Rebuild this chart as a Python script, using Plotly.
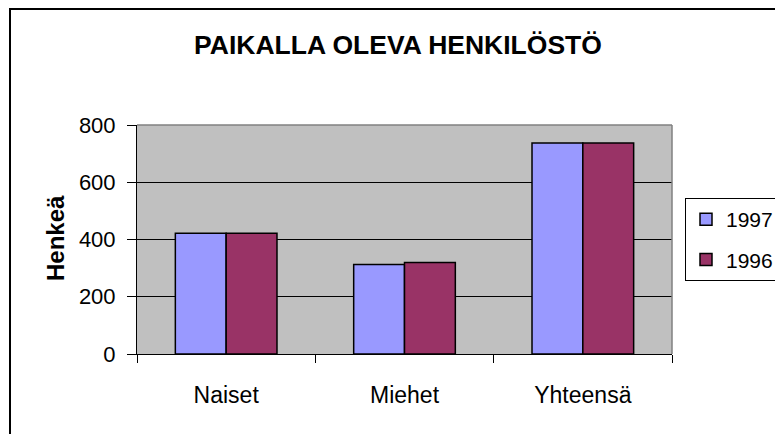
import plotly.graph_objects as go

categories = ["Naiset", "Miehet", "Yhteensä"]
values_1997 = [422, 313, 737]
values_1996 = [422, 320, 737]
y_ticks = [0, 200, 400, 600, 800]

OFF = 8  # default page margin of the browser body
W, H = 783 - OFF, 434 - OFF
# plot area in page pixels: x 137..672, y 125..354
PL, PR, PT, PB = 137, 672, 125, 354
L, R, T, B = PL - OFF, W - (PR - OFF), PT - OFF, H - (PB - OFF)
pw, ph = W - L - R, H - T - B


def px_x(x):
    return (x - OFF - L) / pw


def px_y(y):
    return (PB - y) / ph


FONT = "Liberation Sans, Arial, sans-serif"

fig = go.Figure()
fig.add_trace(go.Bar(name="1997", x=categories, y=values_1997, legendgroup="a",
                     marker=dict(color="#9999FF", line=dict(color="black", width=1.5))))
fig.add_trace(go.Bar(name="1996", x=categories, y=values_1996, legendgroup="b",
                     marker=dict(color="#993366", line=dict(color="black", width=1.5))))

fig.update_layout(
    width=W, height=H,
    margin=dict(l=L, r=R, t=T, b=B, autoexpand=False),
    paper_bgcolor="white",
    plot_bgcolor="#C0C0C0",
    barmode="group", bargap=0.43, bargroupgap=0,
    font=dict(family=FONT, size=22, color="black"),
    title=dict(text="<b>PAIKALLA OLEVA HENKILÖSTÖ</b>", x=(398 - OFF) / W, xanchor="center",
               y=1 - (45 - OFF) / H, yanchor="middle", yref="container",
               font=dict(family=FONT, size=26.5, color="black")),
    xaxis=dict(showline=True, linecolor="black", linewidth=1, ticks="outside",
               tickson="boundaries", ticklen=8, tickcolor="black", showgrid=False,
               ticklabelstandoff=20, tickfont=dict(size=23)),
    yaxis=dict(range=[0, 800], tickvals=y_ticks, showline=True, linecolor="black",
               linewidth=1, ticks="outside", ticklen=9, tickcolor="black",
               showgrid=True, gridcolor="black", gridwidth=1, zeroline=False,
               ticklabelstandoff=7, tickfont=dict(size=22)),
    legend=dict(x=px_x(685), y=px_y(198), xanchor="left", yanchor="top",
                bordercolor="black", borderwidth=1, bgcolor="white",
                font=dict(size=21), traceorder="grouped", tracegroupgap=10),
    showlegend=True,
)

fig.add_annotation(text="<b>Henkeä</b>", textangle=-90, x=px_x(55), y=px_y(238),
                   xref="paper", yref="paper", xanchor="center", yanchor="middle",
                   showarrow=False, font=dict(family=FONT, size=24, color="black"))

# plot area border (top/right in gray)
fig.add_shape(type="line", xref="paper", yref="paper", x0=0, x1=1, y0=1, y1=1,
              line=dict(color="#808080", width=1.5), layer="above")
fig.add_shape(type="line", xref="paper", yref="paper", x0=1, x1=1, y0=0, y1=1,
              line=dict(color="#808080", width=1.5), layer="above")

# outer chart border
fig.add_shape(type="rect", xref="paper", yref="paper",
              x0=px_x(10), x1=px_x(800), y0=px_y(450), y1=px_y(9),
              line=dict(color="black", width=2), fillcolor="rgba(0,0,0,0)", layer="above")

fig.write_html("out.html")
